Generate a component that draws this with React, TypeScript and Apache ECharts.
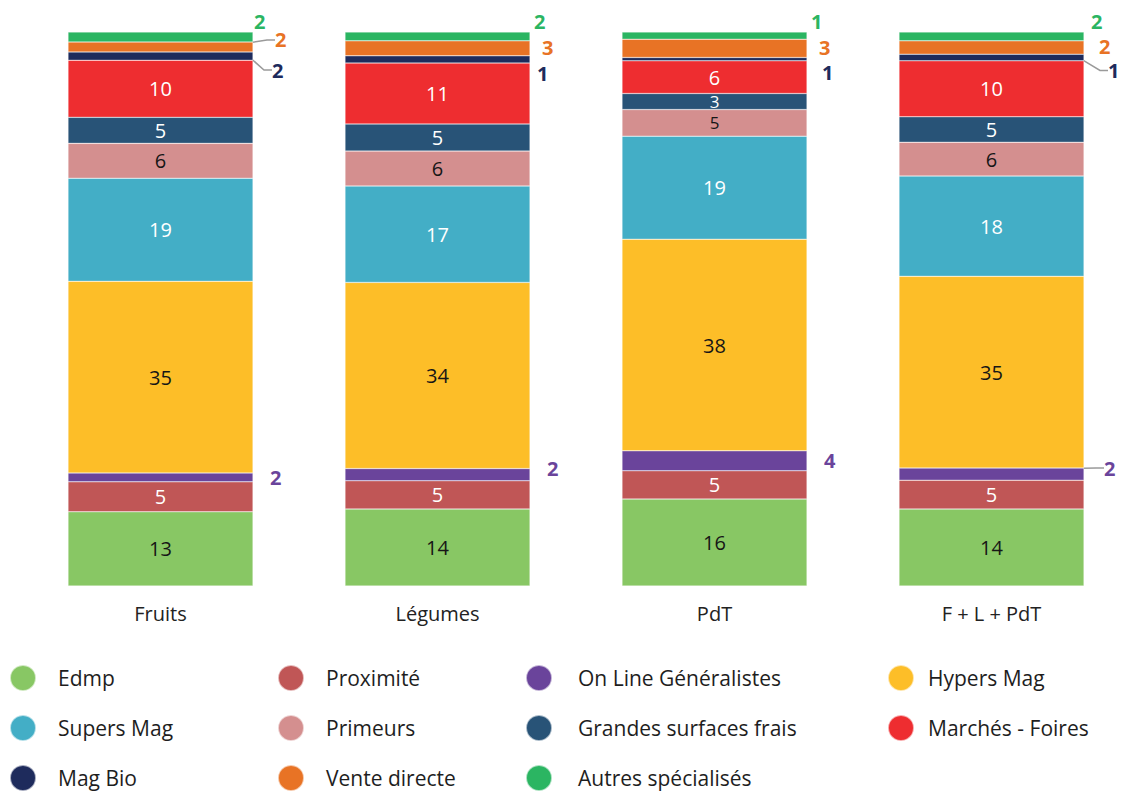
import React, { useEffect, useRef } from "react";
import * as echarts from "echarts";

const categories = ["Fruits", "Légumes", "PdT", "F + L + PdT"];

const seriesNames = [
  "Edmp",
  "Proximité",
  "On Line Généralistes",
  "Hypers Mag",
  "Supers Mag",
  "Primeurs",
  "Grandes surfaces frais",
  "Marchés - Foires",
  "Mag Bio",
  "Vente directe",
  "Autres spécialisés",
];

const edmp = [13.4, 13.9, 15.7, 13.9];
const proximite = [5.4, 5.1, 5.1, 5.2];
const onLine = [1.6, 2.2, 3.6, 2.2];
const hypers = [34.6, 33.6, 38.2, 34.6];
const supers = [18.6, 17.4, 18.6, 18.1];
const primeurs = [6.3, 6.3, 4.8, 6.1];
const gsf = [4.7, 4.9, 2.9, 4.6];
const marches = [10.3, 11.0, 5.9, 10.1];
const magBio = [1.5, 1.3, 0.6, 1.2];
const venteDirecte = [1.8, 2.7, 3.3, 2.4];
const autres = [1.8, 1.6, 1.3, 1.6];

const values = [edmp, proximite, onLine, hypers, supers, primeurs, gsf, marches, magBio, venteDirecte, autres];

const colors = [
  "#88c764",
  "#c05656",
  "#6a449b",
  "#fdbe28",
  "#43aec6",
  "#d48f8f",
  "#285377",
  "#ee2d30",
  "#1e2b5c",
  "#e87325",
  "#2bb562",
];

// inside label colours (null = label outside)
const insideText: (string | null)[] = [
  "#161616",
  "#ffffff",
  null,
  "#161616",
  "#ffffff",
  "#161616",
  "#ffffff",
  "#ffffff",
  null,
  null,
  null,
];

// thin segments whose inside label is set a little smaller
const smallInside: Record<number, boolean[]> = {
  5: [false, false, true, false],
  6: [false, false, true, false],
};

// outside label shifts [dx, dy] per category, and whether a leader line is drawn
const outsideShift: Record<number, number[][]> = {
  2: [[17, 0], [17, -6], [17, 0], [20, -6]],
  8: [[19, 14], [7, 14], [15, 13], [24, 13]],
  9: [[22, -7], [12, -1], [12, -1], [15, -1]],
  10: [[1, -15], [4, -15], [4, -14], [7, -15]],
};
const leaderLine: Record<number, boolean[]> = {
  2: [false, false, false, true],
  8: [true, false, false, true],
  9: [true, false, false, false],
  10: [false, false, false, false],
};

const FONT = "'Open Sans', 'Noto Sans', sans-serif";

export default function App() {
  const ref = useRef<HTMLDivElement>(null);

  useEffect(() => {
    if (!ref.current) return;
    const chart = echarts.init(ref.current, null, { renderer: "svg" });

    const series = seriesNames.map((name, si) => {
      const inside = insideText[si];
      const data = values[si].map((v, ci) => {
        if (inside) {
          if (smallInside[si] && smallInside[si][ci]) {
            return { value: v, label: { fontSize: 17, lineHeight: 17 } };
          }
          return v;
        }
        return {
          value: v,
          labelLine: { show: leaderLine[si][ci] },
        };
      });
      const s: any = {
        name,
        type: "bar",
        stack: "total",
        barWidth: 185,
        itemStyle: { color: colors[si], borderColor: "rgba(255,255,255,0.6)", borderWidth: 0.5 },
        data,
        label: inside
          ? {
              show: true,
              position: "inside",
              color: inside,
              fontSize: 20,
              lineHeight: 19,
              fontFamily: FONT,
              formatter: (p: any) => String(Math.round(p.value)),
            }
          : {
              show: true,
              position: "right",
              distance: 0,
              color: colors[si],
              fontSize: 20,
              lineHeight: 20,
              fontWeight: "bold",
              fontFamily: FONT,
              formatter: (p: any) => String(Math.round(p.value)),
            },
      };
      if (!inside) {
        s.labelLayout = (params: any) => {
          const sh = outsideShift[si][params.dataIndex];
          return { dx: sh[0], dy: sh[1] };
        };
        s.labelLine = { show: true, length2: 8, lineStyle: { color: "#9a9a9a", width: 1.5 } };
      }
      return s;
    });

    const legendCols = [
      { left: 9, pad: 17, names: ["Edmp", "Supers Mag", "Mag Bio"] },
      { left: 277, pad: 17, names: ["Proximité", "Primeurs", "Vente directe"] },
      { left: 525, pad: 21, names: ["On Line Généralistes", "Grandes surfaces frais", "Autres spécialisés"] },
      { left: 887, pad: 9, names: ["Hypers Mag", "Marchés - Foires"] },
    ];

    chart.setOption({
      animation: false,
      color: colors,
      grid: { left: 22, top: 32, width: 1108, height: 554 },
      xAxis: {
        type: "category",
        data: categories,
        axisLine: { show: false },
        axisTick: { show: false },
        axisLabel: { margin: 17, fontSize: 20, color: "#222", fontFamily: FONT },
      },
      yAxis: { type: "value", min: 0, max: 100, show: false, splitLine: { show: false } },
      legend: legendCols.map((c) => ({
        orient: "vertical",
        left: c.left,
        top: 664,
        padding: 0,
        data: c.names,
        icon: "circle",
        itemWidth: 26,
        itemHeight: 26,
        itemGap: 22,
        textStyle: { fontSize: 21, color: "#1e1e1e", fontFamily: FONT, padding: [0, 0, 0, c.pad] },
        selectedMode: false,
      })),
      series,
    });

    return () => chart.dispose();
  }, []);

  return (
    <div style={{ position: "absolute", left: 0, top: 0, width: 1122, height: 792, overflow: "hidden", background: "#fff" }}>
      <div ref={ref} style={{ width: 1140, height: 860 }} />
    </div>
  );
}
